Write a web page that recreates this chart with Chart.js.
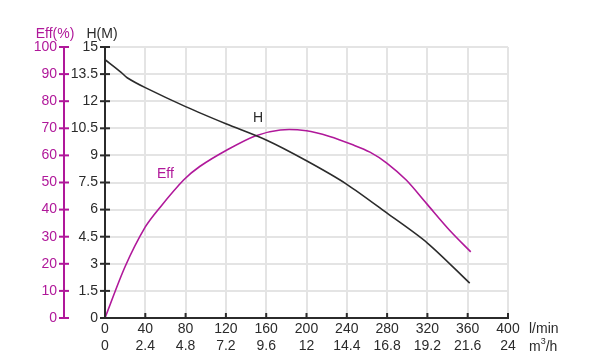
<!DOCTYPE html>
<html>
<head>
<meta charset="utf-8">
<script src="https://cdn.jsdelivr.net/npm/chart.js@4.4.0/dist/chart.umd.min.js"></script>
<style>
  html, body { margin: 0; padding: 0; background: #fff; }
  #wrap { width: 590px; height: 360px; }
</style>
</head>
<body>
<div id="wrap"><canvas id="pumpChart"></canvas></div>
<script>
// flow values (l/min) and readings
const hFlow = [0, 16, 22, 40, 80, 120, 160, 200, 240, 280, 320, 362];
const headValues = [14.3, 13.6, 13.3, 12.75, 11.7, 10.75, 9.85, 8.7, 7.4, 5.8, 4.15, 1.93];
const effFlow = [0, 20, 40, 55, 78, 94, 121, 149, 174, 200, 223, 246, 263, 280, 299, 319, 342, 363];
const effValues = [0, 19, 33.6, 41, 50.9, 55.9, 62, 67.2, 69.4, 69.1, 67, 63.9, 61.2, 57.1, 50.9, 42.3, 32.4, 24.4];

// tick labels
const flowTicks = [0, 40, 80, 120, 160, 200, 240, 280, 320, 360, 400];
const m3hTicks = ['0', '2.4', '4.8', '7.2', '9.6', '12', '14.4', '16.8', '19.2', '21.6', '24'];
const headTicks = ['0', '1.5', '3', '4.5', '6', '7.5', '9', '10.5', '12', '13.5', '15'];
const effTicks = [0, 10, 20, 30, 40, 50, 60, 70, 80, 90, 100];

const MAGENTA = '#b0189a';
const DARK = '#2b2b2b';
const FONT = '"Liberation Sans", Arial, sans-serif';

const toPoints = (xs, ys) => xs.map((x, i) => ({ x: x, y: ys[i] }));

// draws the crossing tick marks and the free text labels
const decorations = {
    id: 'decorations',
    afterDraw(chart) {
        const c = chart.ctx;
        const x = chart.scales.x, h = chart.scales.yH, e = chart.scales.yEff;
        c.save();
        c.lineWidth = 2;

        c.strokeStyle = DARK;
        headTicks.forEach((t, i) => {
            const py = h.getPixelForValue(i * 1.5);
            c.beginPath(); c.moveTo(h.right - 5, py); c.lineTo(h.right + 5, py); c.stroke();
        });
        flowTicks.forEach(v => {
            const px = x.getPixelForValue(v);
            c.beginPath(); c.moveTo(px, x.top); c.lineTo(px, x.top - 5); c.stroke();
        });

        c.strokeStyle = MAGENTA;
        effTicks.forEach(v => {
            const py = e.getPixelForValue(v);
            c.beginPath(); c.moveTo(e.right - 5, py); c.lineTo(e.right + 5, py); c.stroke();
        });

        c.font = '14px ' + FONT;
        c.textBaseline = 'middle';
        c.textAlign = 'center';
        c.fillStyle = MAGENTA;
        c.fillText('Eff(%)', e.right - 9, h.top - 13);
        c.fillStyle = DARK;
        c.fillText('H(M)', h.right - 3, h.top - 13);

        c.textAlign = 'left';
        c.fillText('l/min', x.right + 21, x.top + 11);
        c.fillText('m', x.right + 21, x.top + 29);
        const mW = c.measureText('m').width;
        c.font = '9px ' + FONT;
        c.fillText('3', x.right + 21 + mW, x.top + 24);
        const sW = c.measureText('3').width;
        c.font = '14px ' + FONT;
        c.fillText('/h', x.right + 21 + mW + sW, x.top + 29);

        // curve names
        c.textAlign = 'center';
        c.fillText('H', x.getPixelForValue(152), h.getPixelForValue(11.05));
        c.fillStyle = MAGENTA;
        c.fillText('Eff', x.getPixelForValue(60), e.getPixelForValue(53));
        c.restore();
    }
};

new Chart(document.getElementById('pumpChart').getContext('2d'), {
    type: 'line',
    data: {
        datasets: [{
            label: 'H',
            data: toPoints(hFlow, headValues),
            borderColor: DARK,
            borderWidth: 1.6,
            pointRadius: 0,
            tension: 0.3,
            yAxisID: 'yH'
        }, {
            label: 'Eff',
            data: toPoints(effFlow, effValues),
            borderColor: MAGENTA,
            borderWidth: 1.6,
            pointRadius: 0,
            tension: 0.3,
            yAxisID: 'yEff'
        }]
    },
    options: {
        responsive: true,
        maintainAspectRatio: false,
        animation: false,
        layout: { padding: { top: 47, right: 82, left: 0, bottom: 0 } },
        plugins: { legend: { display: false }, tooltip: { enabled: false } },
        scales: {
            x: {
                type: 'linear',
                min: 0, max: 400,
                afterBuildTicks: s => { s.ticks = flowTicks.map(v => ({ value: v })); },
                afterFit: s => { s.height = 42; },
                grid: { color: '#e4e4e4', lineWidth: 2, drawTicks: false },
                border: { color: DARK, width: 2 },
                ticks: {
                    color: DARK,
                    font: { family: FONT, size: 14 },
                    padding: 3,
                    maxRotation: 0,
                    autoSkip: false,
                    callback: (v, i) => [String(flowTicks[i]), m3hTicks[i]]
                }
            },
            yH: {
                type: 'linear',
                position: 'left',
                weight: 0,
                min: 0, max: 15,
                afterBuildTicks: s => { s.ticks = headTicks.map((t, i) => ({ value: i * 1.5 })); },
                afterFit: s => { s.width = 41; },
                grid: { color: '#e4e4e4', lineWidth: 2, drawTicks: false },
                border: { color: DARK, width: 2 },
                ticks: {
                    color: DARK,
                    font: { family: FONT, size: 14 },
                    padding: 7,
                    autoSkip: false,
                    callback: (v, i) => headTicks[i]
                }
            },
            yEff: {
                type: 'linear',
                position: 'left',
                weight: 1,
                min: 0, max: 100,
                afterBuildTicks: s => { s.ticks = effTicks.map(v => ({ value: v })); },
                afterFit: s => { s.width = 64; },
                grid: { drawOnChartArea: false, drawTicks: false },
                border: { color: MAGENTA, width: 2 },
                ticks: {
                    color: MAGENTA,
                    font: { family: FONT, size: 14 },
                    padding: 7,
                    autoSkip: false,
                    callback: (v, i) => String(effTicks[i])
                }
            }
        }
    },
    plugins: [decorations]
});
</script>
</body>
</html>
